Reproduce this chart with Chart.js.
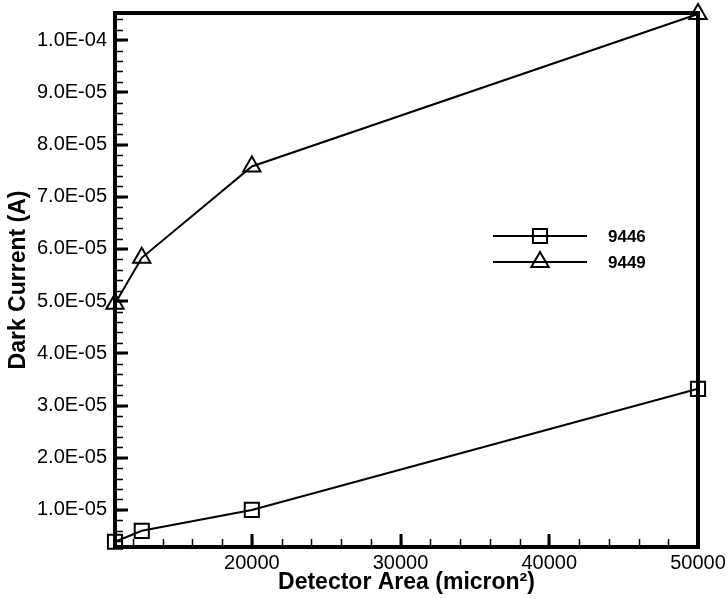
<!DOCTYPE html>
<html>
<head>
<meta charset="utf-8">
<script src="https://cdn.jsdelivr.net/npm/chart.js@4/dist/chart.umd.min.js"></script>
<style>
  html, body { margin: 0; padding: 0; background: #fff; }
  #wrap { width: 728px; height: 599px; }
</style>
</head>
<body>
<div id="wrap"><canvas id="c" width="728" height="599"></canvas></div>
<script>
// Detector area (micron^2) for each measured device
const areas = [10800, 12600, 20000, 50000];
// Dark current (A) for wafer 9446 and 9449
const current9446 = [3.9e-6, 6.0e-6, 1.0e-5, 3.32e-5];
const current9449 = [4.95e-5, 5.83e-5, 7.58e-5, 1.05e-4];
const seriesLabels = ['9446', '9449'];

// Axis ranges and labelled ticks
const xRange = [10800, 50000];
const yRange = [2.9e-6, 1.052e-4];
const xTickValues = [20000, 30000, 40000, 50000];
const yTickValues = [1e-5, 2e-5, 3e-5, 4e-5, 5e-5, 6e-5, 7e-5, 8e-5, 9e-5, 1e-4];
const xMinorStep = 2000;
const yMinorStep = 2e-6;

const FONT = '"Liberation Sans", Arial, Helvetica, sans-serif';

function sciLabel(v) {
  const e = Math.floor(Math.log10(v) + 1e-9);
  const m = v / Math.pow(10, e);
  const sign = e < 0 ? '-' : '+';
  const ae = Math.abs(e);
  return m.toFixed(1) + 'E' + sign + (ae < 10 ? '0' + ae : '' + ae);
}

function toPoints(xs, ys) {
  return xs.map((x, i) => ({ x: x, y: ys[i] }));
}

// Frame plus inward major/minor tick marks
const framePlugin = {
  id: 'frame',
  beforeDatasetsDraw(chart) {
    const { ctx, chartArea: a, scales: { x, y } } = chart;
    ctx.save();
    ctx.strokeStyle = '#000';
    ctx.lineCap = 'butt';

    // minor ticks
    ctx.lineWidth = 1.5;
    ctx.beginPath();
    for (let v = Math.ceil(xRange[0] / xMinorStep) * xMinorStep; v <= xRange[1]; v += xMinorStep) {
      const px = Math.round(x.getPixelForValue(v)) + 0.5;
      ctx.moveTo(px, a.bottom);
      ctx.lineTo(px, a.bottom - 8);
    }
    for (let k = Math.ceil(yRange[0] / yMinorStep); k * yMinorStep <= yRange[1]; k++) {
      const py = Math.round(y.getPixelForValue(k * yMinorStep)) + 0.5;
      ctx.moveTo(a.left, py);
      ctx.lineTo(a.left + 8, py);
    }
    ctx.stroke();

    // major ticks
    ctx.lineWidth = 3;
    ctx.beginPath();
    xTickValues.forEach(v => {
      const px = Math.round(x.getPixelForValue(v));
      ctx.moveTo(px, a.bottom);
      ctx.lineTo(px, a.bottom - 13);
    });
    yTickValues.forEach(v => {
      const py = Math.round(y.getPixelForValue(v));
      ctx.moveTo(a.left, py);
      ctx.lineTo(a.left + 13, py);
    });
    ctx.stroke();

    // frame
    ctx.lineWidth = 4;
    ctx.strokeRect(a.left, a.top, a.right - a.left, a.bottom - a.top);
    ctx.restore();
  }
};

// Legend drawn inside the plot area
const legendPlugin = {
  id: 'insideLegend',
  afterDatasetsDraw(chart) {
    const { ctx } = chart;
    const x0 = 493, x1 = 587, xs = 540, xt = 608;
    const rows = [236, 262];
    ctx.save();
    chart.data.datasets.forEach((ds, i) => {
      const yy = rows[i];
      ctx.strokeStyle = '#000';
      ctx.lineWidth = 2;
      ctx.beginPath();
      ctx.moveTo(x0, yy);
      ctx.lineTo(x1, yy);
      ctx.stroke();
      ctx.fillStyle = 'rgba(0,0,0,0)';
      ctx.lineWidth = 2;
      Chart.helpers.drawPoint(ctx, { pointStyle: ds.pointStyle, radius: ds.pointRadius, borderWidth: 2, rotation: 0 }, xs, yy);
      ctx.fillStyle = '#000';
      ctx.font = 'bold 17px ' + FONT;
      ctx.textAlign = 'left';
      ctx.textBaseline = 'middle';
      ctx.fillText(ds.label, xt, yy + 1);
    });
    ctx.restore();
  }
};

new Chart(document.getElementById('c'), {
  type: 'line',
  data: {
    datasets: [
      {
        label: seriesLabels[0],
        data: toPoints(areas, current9446),
        pointStyle: 'rect',
        pointRadius: 10,
        borderColor: '#000',
        borderWidth: 2,
        pointBorderColor: '#000',
        pointBackgroundColor: 'rgba(0,0,0,0)',
        pointBorderWidth: 2,
        tension: 0,
        clip: false
      },
      {
        label: seriesLabels[1],
        data: toPoints(areas, current9449),
        pointStyle: 'triangle',
        pointRadius: 10,
        borderColor: '#000',
        borderWidth: 2,
        pointBorderColor: '#000',
        pointBackgroundColor: 'rgba(0,0,0,0)',
        pointBorderWidth: 2,
        tension: 0,
        clip: false
      }
    ]
  },
  options: {
    responsive: false,
    animation: false,
    devicePixelRatio: 1,
    layout: { padding: { top: 13, right: 30, left: 0, bottom: 0 } },
    plugins: { legend: { display: false }, tooltip: { enabled: false } },
    scales: {
      x: {
        type: 'linear',
        min: xRange[0],
        max: xRange[1],
        afterBuildTicks(scale) { scale.ticks = xTickValues.map(v => ({ value: v })); },
        afterFit(scale) {
          scale.height = 52;
          scale.paddingLeft = 0;
          scale.paddingRight = 0;
        },
        grid: { display: false, drawTicks: false },
        border: { display: false },
        ticks: {
          padding: 4,
          color: '#000',
          font: { family: FONT, size: 20 },
          maxRotation: 0,
          autoSkip: false,
          callback: v => String(v)
        },
        title: {
          display: true,
          text: 'Detector Area (micron²)',
          color: '#000',
          font: { family: FONT, size: 23, weight: 'bold' },
          padding: { top: 0, bottom: 3 }
        }
      },
      y: {
        type: 'linear',
        min: yRange[0],
        max: yRange[1],
        afterBuildTicks(scale) { scale.ticks = yTickValues.map(v => ({ value: v })); },
        afterFit(scale) {
          scale.width = 115;
          scale.paddingTop = 0;
          scale.paddingBottom = 0;
        },
        grid: { display: false, drawTicks: false },
        border: { display: false },
        ticks: {
          padding: 8,
          color: '#000',
          font: { family: FONT, size: 20 },
          autoSkip: false,
          callback: v => sciLabel(v)
        },
        title: {
          display: true,
          text: 'Dark Current (A)',
          color: '#000',
          font: { family: FONT, size: 23, weight: 'bold' },
          padding: { top: 5, bottom: 0 }
        }
      }
    }
  },
  plugins: [framePlugin, legendPlugin]
});
</script>
</body>
</html>
